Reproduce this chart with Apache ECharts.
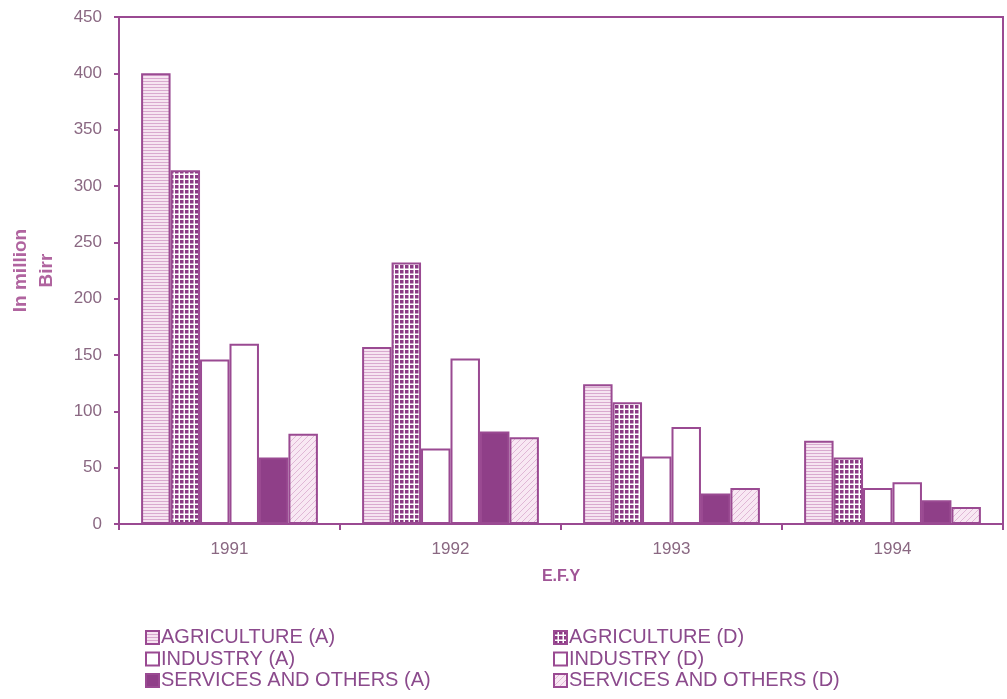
<!DOCTYPE html>
<html>
<head>
<meta charset="utf-8">
<script src="https://cdn.jsdelivr.net/npm/echarts@6/dist/echarts.min.js"></script>
<style>
html,body{margin:0;padding:0;background:#fff;}
#chart{width:1007px;height:699px;}
</style>
</head>
<body>
<div id="chart"></div>
<script>
const years = ['1991', '1992', '1993', '1994'];
const seriesNames = ['AGRICULTURE (A)', 'AGRICULTURE (D)', 'INDUSTRY (A)', 'INDUSTRY (D)', 'SERVICES AND OTHERS (A)', 'SERVICES AND OTHERS (D)'];
const agricultureA = [400, 157, 124, 74];
const agricultureD = [314, 232, 108, 59];
const industryA = [146, 67, 60, 32];
const industryD = [160, 147, 86, 37];
const servicesA = [59, 82, 27, 21];
const servicesD = [80, 77, 32, 15];
const yTicks = {min: 0, max: 450, interval: 50};

const PURPLE = '#8f3f88';
const BORDER = '#9a4a92';

function makePattern(kind) {
  const c = document.createElement('canvas');
  const ctx = c.getContext('2d');
  if (kind === 'hlines') {
    c.width = 6; c.height = 3;
    ctx.fillStyle = '#f6e4f1'; ctx.fillRect(0, 0, 6, 3);
    ctx.fillStyle = '#d9a9cf'; ctx.fillRect(0, 0, 6, 1);
  } else if (kind === 'grid') {
    c.width = 5; c.height = 5;
    ctx.fillStyle = '#ffffff'; ctx.fillRect(0, 0, 5, 5);
    ctx.fillStyle = '#8a3a84'; ctx.fillRect(0, 0, 3.5, 3.5);
  } else if (kind === 'diag') {
    c.width = 6; c.height = 6;
    ctx.fillStyle = '#f8e8f3'; ctx.fillRect(0, 0, 6, 6);
    ctx.strokeStyle = '#e0b8d6'; ctx.lineWidth = 1;
    ctx.beginPath();
    ctx.moveTo(0, 6); ctx.lineTo(6, 0);
    ctx.moveTo(-3, 3); ctx.lineTo(3, -3);
    ctx.moveTo(3, 9); ctx.lineTo(9, 3);
    ctx.stroke();
  }
  return {image: c, repeat: 'repeat'};
}

const fills = [
  makePattern('hlines'),
  makePattern('grid'),
  '#ffffff',
  '#ffffff',
  PURPLE,
  makePattern('diag')
];
const dataSets = [agricultureA, agricultureD, industryA, industryD, servicesA, servicesD];

const chart = echarts.init(document.getElementById('chart'), null, {renderer: 'canvas'});
const FONT = 'Liberation Sans, Arial, sans-serif';

const legendText = {fontFamily: FONT, fontSize: 20, color: '#8b4a8c', lineHeight: 21, padding: [0, 0, 0, -3]};

chart.setOption({
  animation: false,
  backgroundColor: '#ffffff',
  textStyle: {fontFamily: FONT},
  grid: {
    left: 117, right: 4, top: 17, bottom: 175,
    show: true, borderColor: BORDER, borderWidth: 2, backgroundColor: 'transparent'
  },
  legend: [
    {
      data: [seriesNames[0], seriesNames[2], seriesNames[4]],
      orient: 'vertical', left: 140, top: 622,
      icon: 'rect', itemWidth: 13, itemHeight: 13, itemGap: 0.5,
      textStyle: legendText
    },
    {
      data: [seriesNames[1], seriesNames[3], seriesNames[5]],
      orient: 'vertical', left: 548, top: 622,
      icon: 'rect', itemWidth: 13, itemHeight: 13, itemGap: 0.5,
      textStyle: legendText
    }
  ],
  xAxis: {
    type: 'category',
    data: years,
    name: 'E.F.Y',
    nameLocation: 'middle',
    nameGap: 45,
    nameTextStyle: {fontFamily: FONT, fontSize: 16, fontWeight: 'bold', color: '#a05596'},
    axisLine: {lineStyle: {color: BORDER, width: 2}},
    axisTick: {show: true, length: 6, inside: false, lineStyle: {color: BORDER, width: 2}},
    axisLabel: {fontFamily: FONT, fontSize: 17, color: '#8a6882', margin: 17}
  },
  yAxis: {
    type: 'value',
    min: yTicks.min, max: yTicks.max, interval: yTicks.interval,
    name: 'In million\nBirr',
    nameLocation: 'middle',
    nameGap: 59,
    nameRotate: 90,
    nameTextStyle: {fontFamily: FONT, fontSize: 19, fontWeight: 'bold', color: '#b0649f', lineHeight: 26},
    axisLine: {show: true, lineStyle: {color: BORDER, width: 2}},
    axisTick: {show: true, length: 5, lineStyle: {color: BORDER, width: 2}},
    axisLabel: {fontFamily: FONT, fontSize: 17, color: '#8a6882', margin: 17},
    splitLine: {show: false}
  },
  series: seriesNames.map((name, i) => ({
    name: name,
    type: 'bar',
    data: dataSets[i],
    barGap: '0%',
    barCategoryGap: '20%',
    itemStyle: {color: fills[i], borderColor: BORDER, borderWidth: 2}
  }))
});
</script>
</body>
</html>
